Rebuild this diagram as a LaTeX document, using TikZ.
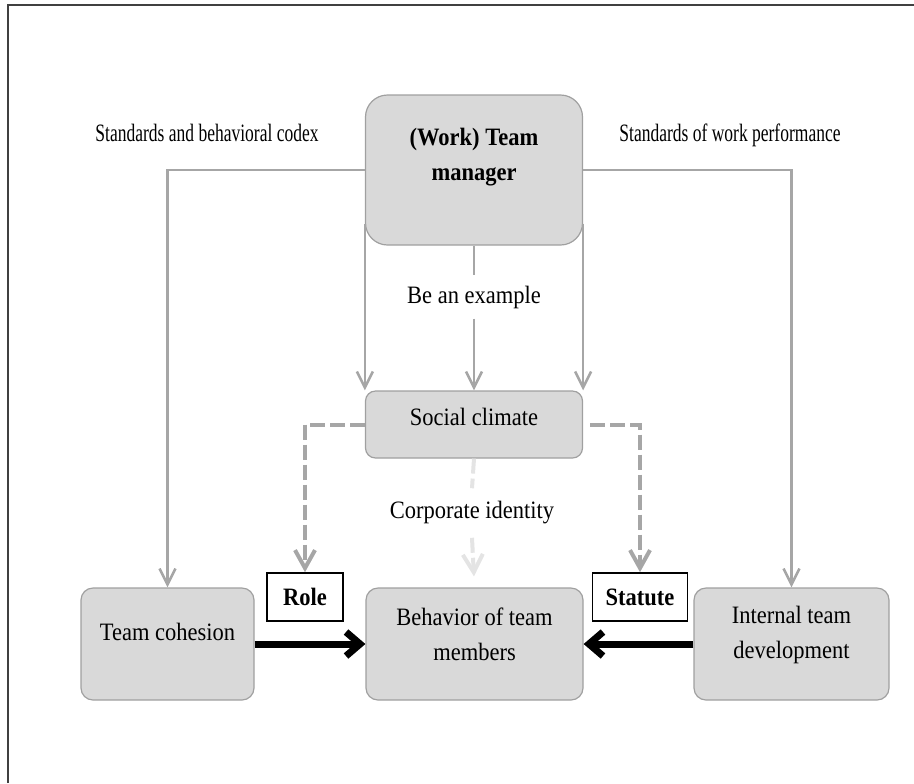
\documentclass[tikz,border=0pt]{standalone}
\usepackage{fontspec}
\setmainfont{Liberation Serif}[FakeStretch=0.9]
\newfontfamily\narrowserif{Liberation Serif}[FakeStretch=0.7]
\usetikzlibrary{arrows.meta}
\definecolor{boxgray}{HTML}{D9D9D9}
\definecolor{edgegray}{HTML}{A0A0A0}
\definecolor{linegray}{HTML}{A6A6A6}
\definecolor{palegray}{HTML}{E4E4E4}
\definecolor{framegray}{HTML}{404040}
\newcommand\boxfont{\fontsize{12.5}{17.5}\selectfont}
\tikzset{
  font=\boxfont,
  % Set arrowhead
  >={Straight Barb[length=8pt, width=8pt]},
  % Rounded gray box
  box/.style={draw=edgegray, fill=boxgray, rounded corners=6pt,
    inner sep=0pt, line width=0.6pt},
  % Text inside a box
  boxtext/.style={align=center, inner sep=0pt},
  % White framed tag
  tagbox/.style={draw, fill=white, line width=0.8pt,
    font=\boxfont\bfseries, minimum height=24pt, inner sep=0pt},
  % Text on a connector
  note/.style={inner xsep=2pt, inner ysep=5pt},
  % Labels on top
  topnote/.style={font=\narrowserif\boxfont},
  % Arrows
  feed/.style={draw=linegray, line width=1.3pt, ->},
  dashfeed/.style={draw=linegray, line width=2pt,
    dash pattern=on 7.5pt off 2.5pt,
    -{Straight Barb[length=9pt, width=10pt]}},
  faintfeed/.style={dashfeed, draw=palegray},
  strong/.style={line width=3.5pt, -{Straight Barb[length=7pt, width=12pt]}},
}

\begin{document}
\begin{tikzpicture}[x=0.5pt, y=-0.5pt]
  \useasboundingbox (0,0) rectangle (914,783);
  \draw[framegray, line width=1pt] (8,783) -- (8,5) -- (914,5);

  \node[topnote] (codex) at (207,133) {Standards and behavioral codex};
  \node[topnote] (norms) at (730,135) {Standards of work performance};

  \node[box, rounded corners=11pt, minimum width=108.5pt, minimum height=75pt,
    label={[boxtext, font=\boxfont\bfseries, yshift=6.25pt]center:{(Work) Team\\manager}}]
    (mgr) at (474,170) {};
  \node[note] (example) at (474,297) {Be an example};
  \node[box, rounded corners=5pt, minimum width=108.5pt, minimum height=33.5pt,
    label={[boxtext, yshift=3.75pt]center:Social climate}]
    (climate) at (474,424.5) {};
  \node[note, inner ysep=6.5pt] (identity) at (472,513) {Corporate identity};

  \node[tagbox, minimum width=38pt] (role) at (305,597) {Role};
  \node[tagbox, minimum width=47.5pt] (statute) at (640,597) {Statute};

  \node[box, minimum width=86.5pt, minimum height=56pt,
    label={[boxtext, yshift=6pt]center:Team cohesion}]
    (cohesion) at (167.5,644) {};
  \node[box, minimum width=108.5pt, minimum height=56pt,
    label={[boxtext, yshift=4.75pt]center:{Behavior of team\\members}}]
    (behavior) at (474.5,644) {};
  \node[box, minimum width=97.5pt, minimum height=56pt,
    label={[boxtext, yshift=4.75pt]center:{Internal team\\development}}]
    (internal) at (791.5,644) {};

  % manager
  \draw[feed] (mgr.west) -| (cohesion.north);
  \draw[feed] (mgr.east) -| (internal.north);
  \draw[feed] ([yshift=11pt]mgr.south west) -- (mgr.south west |- climate.north);
  \draw[feed] ([yshift=11pt]mgr.south east) -- (mgr.south east |- climate.north);
  \draw[feed, -] (mgr.south) -- (example.north);
  \draw[feed] (example.south) -- (climate.north);

  % climate
  \draw[dashfeed] (climate.west) -| (role.north);
  \draw[dashfeed, shorten <=3.5pt] (climate.east) -| (statute.north);
  \draw[faintfeed, -] (climate.south) -- (identity.north);
  \draw[faintfeed, shorten >=5.5pt] (identity.south) -- (behavior.north);

  % bottom row
  \draw[strong] (cohesion.east) -- (behavior.west);
  \draw[strong] (internal.west) -- (behavior.east);
\end{tikzpicture}
\end{document}
